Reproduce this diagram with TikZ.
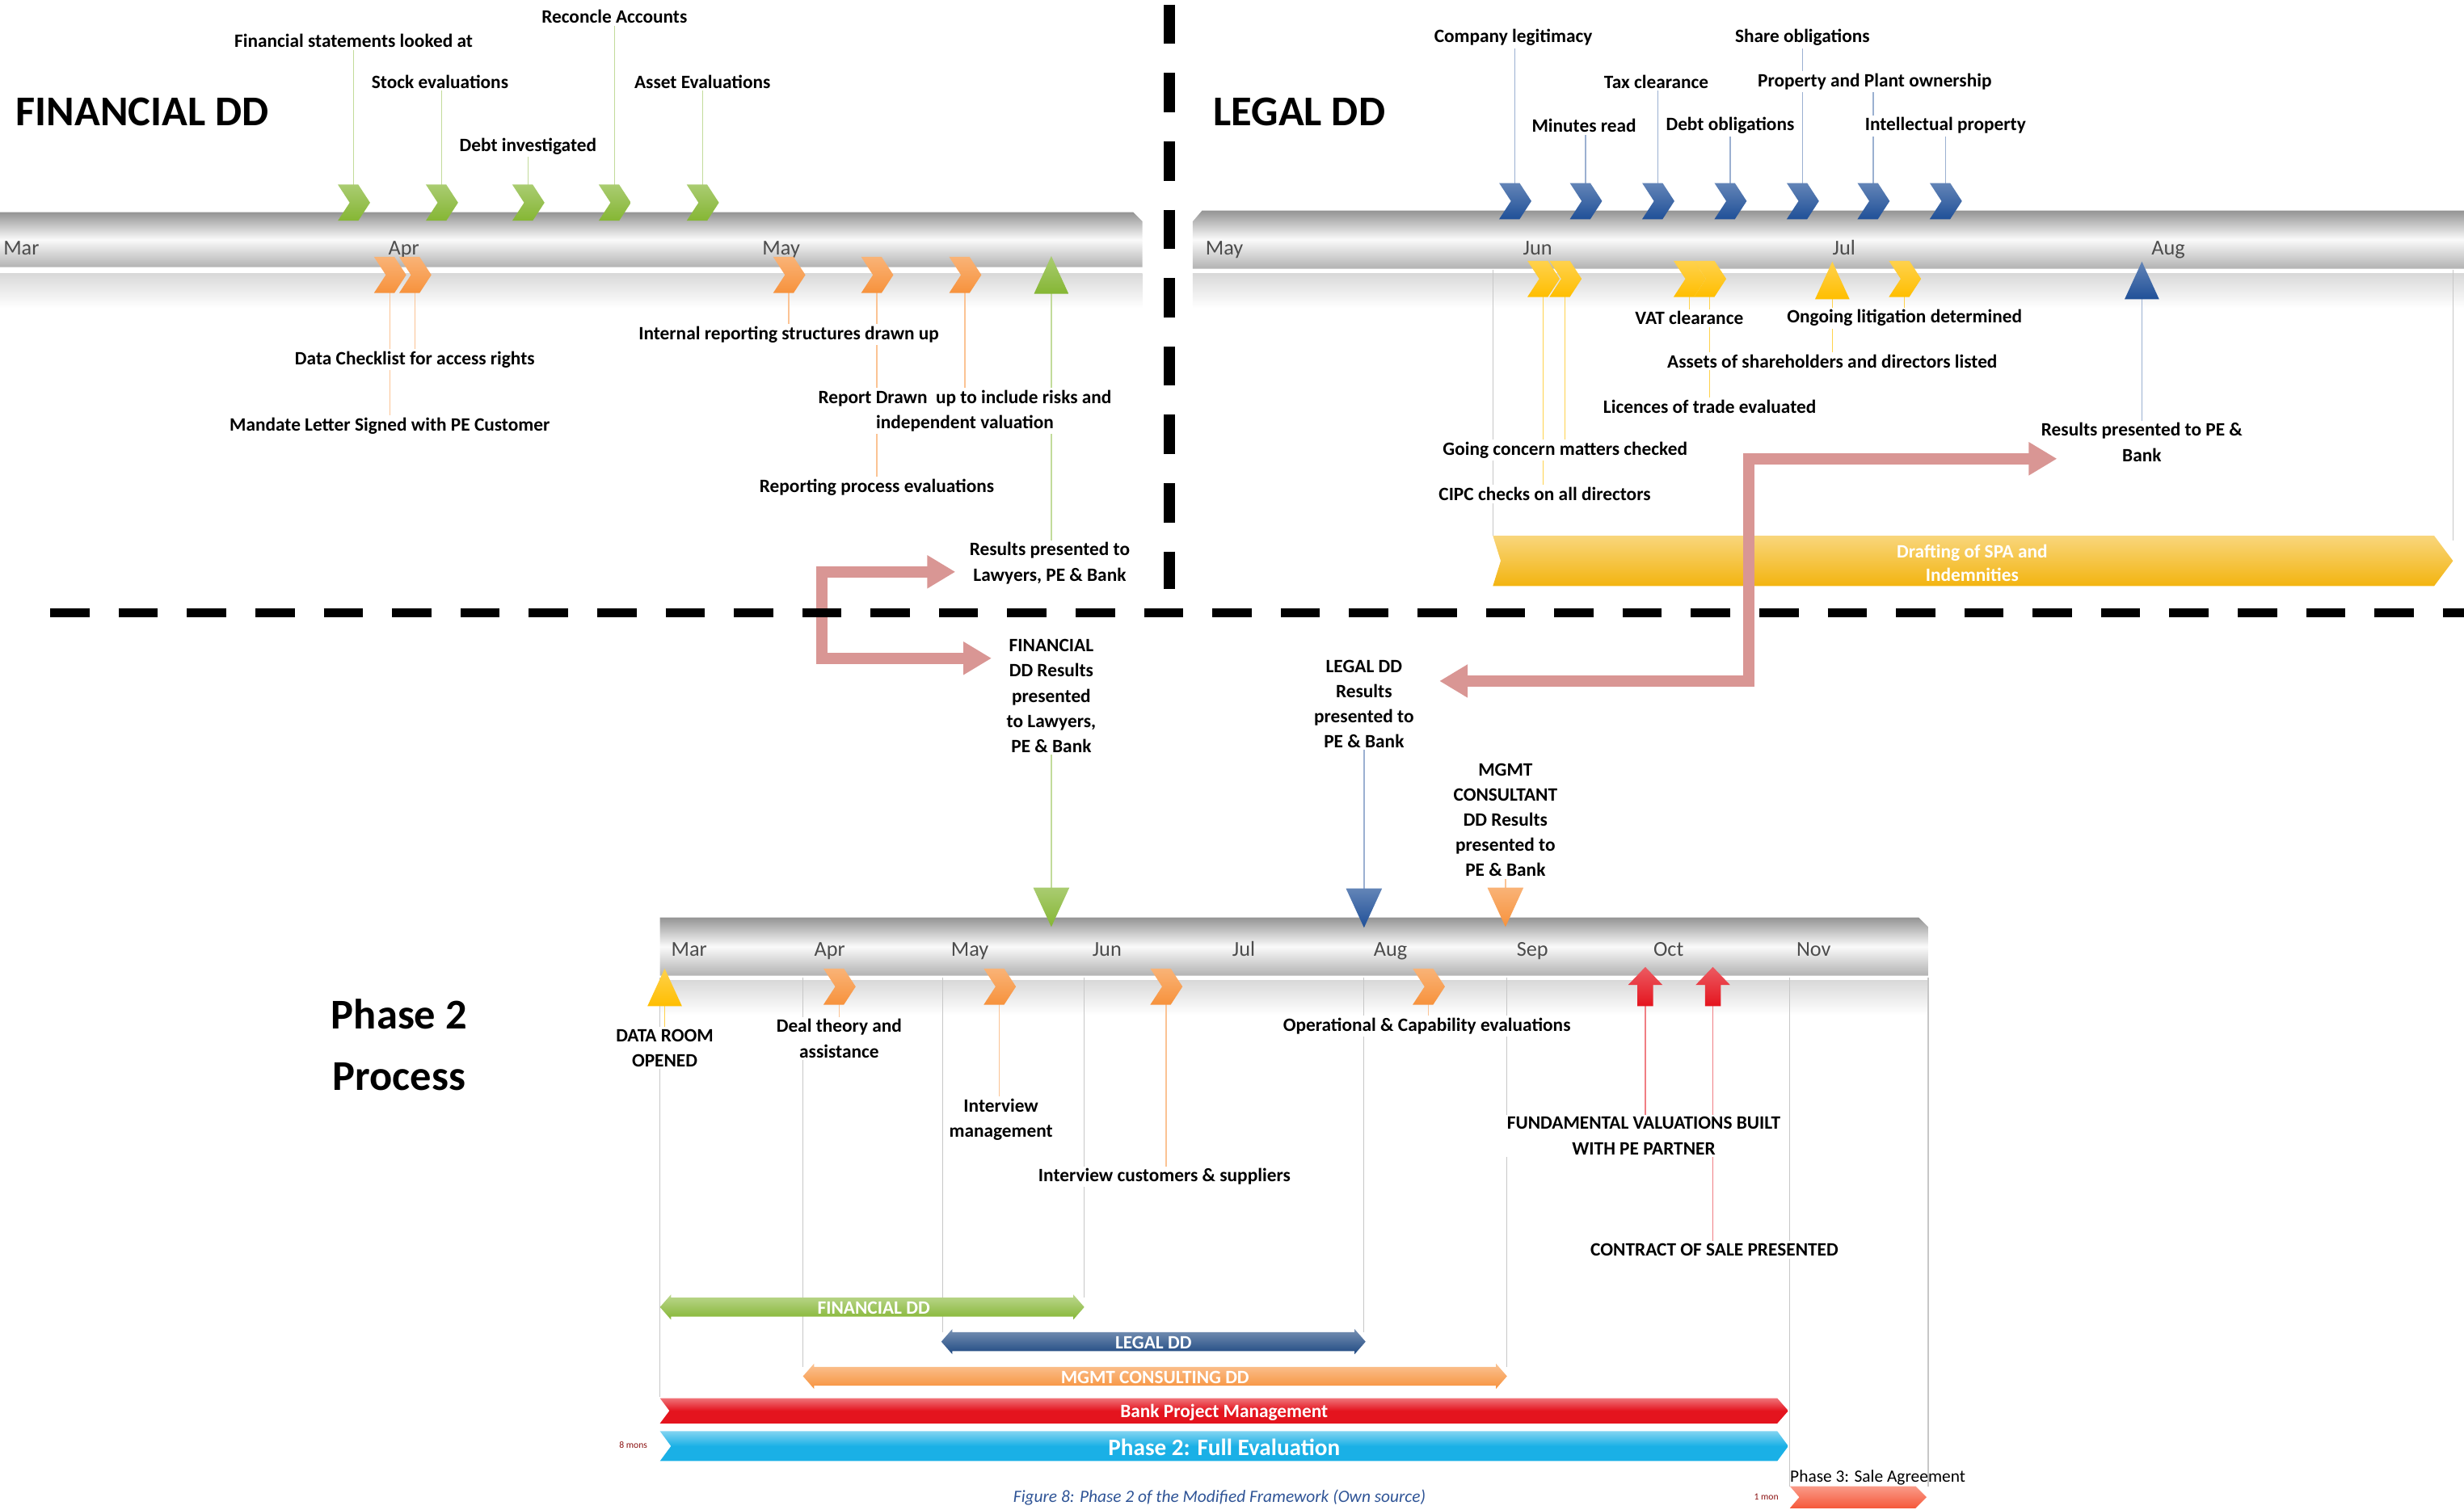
\documentclass[tikz,border=0pt]{standalone}
\usepackage{fontspec}
\setmainfont{Carlito}
\usetikzlibrary{arrows.meta}

\pgfdeclarelayer{bars}
\pgfdeclarelayer{guides}
\pgfsetlayers{bars,guides,main}

\definecolor{cgreen}{RGB}{133,182,52}
\definecolor{corange}{RGB}{247,146,60}
\definecolor{cblue}{RGB}{32,80,152}
\definecolor{cyellow}{RGB}{255,190,0}
\definecolor{cred}{RGB}{228,20,30}
\definecolor{ccyan}{RGB}{26,176,230}
\definecolor{cpink}{RGB}{217,150,148}
\definecolor{cgold}{RGB}{243,180,16}
\definecolor{cnavy}{RGB}{31,73,130}
\definecolor{cember}{RGB}{246,88,58}
\definecolor{capt}{RGB}{47,84,150}
\definecolor{cmaroon}{RGB}{140,20,20}

\tikzset{
  tube/.style={top color=black!42, bottom color=black!30, middle color=black!2},
  tubeband/.style={top color=black!15, bottom color=white},
  lbl/.style={font=\bfseries\fontsize{12}{16}\selectfont, align=center, fill=white, inner sep=1.5pt},
  bigtitle/.style={font=\bfseries\fontsize{27}{39}\selectfont, align=center},
  monthlbl/.style={font=\fontsize{13.5}{14}\selectfont, text=black!70, anchor=base west, inner sep=0pt},
  bartext/.style={font=\bfseries\fontsize{12}{15}\selectfont, text=white, align=center, inner sep=0pt},
  leader/.style={line width=0.7pt},
  gridline/.style={line width=0.6pt, draw=black!22},
  divider/.style={line width=#1, dash pattern=on 25pt off 18.5pt},
  pinkarrow/.style={draw=cpink, line width=7pt,
    {Triangle[width=20pt,length=18pt]}-{Triangle[width=20pt,length=18pt]}},
  pics/chev/.style={code={
    \shade[top color=#1!70!white, bottom color=#1]
      (-10,-11.5) -- (3,-11.5) -- (10.5,0) -- (3,11.5) -- (-10,11.5) -- (-2.5,0) -- cycle;}},
  pics/triup/.style={code={
    \shade[top color=#1!70!white, bottom color=#1]
      (-11,12) -- (0,-12) -- (11,12) -- cycle;}},
  pics/tridown/.style={code={
    \shade[top color=#1!70!white, bottom color=#1]
      (-11.5,-12.5) -- (0,12.5) -- (11.5,-12.5) -- cycle;}},
  pics/uparrow/.style={code={
    \shade[top color=#1!70!white, bottom color=#1]
      (-5,12.5) -- (-5,-1) -- (-11,-1) -- (0,-12.5) -- (11,-1) -- (5,-1) -- (5,12.5) -- cycle;}},
}

\begin{document}
\begin{tikzpicture}[x=1pt, y=-1pt]
\useasboundingbox (0,0) rectangle (1568,961);

% ---------- timeline tubes
\begin{pgfonlayer}{bars}
  \shade[tube] (0,135) -- (721,135) -- (727,141) -- (727,170) -- (0,170) -- cycle;
  \shade[tubeband] (0,174) rectangle (727,196);
  \shade[tube] (759,141) -- (765,134) -- (1568,134) -- (1568,171) -- (759,171) -- cycle;
  \shade[tubeband] (759,174) rectangle (1568,196);
  \shade[tube] (420,584) -- (1221,584) -- (1227,590) -- (1227,621) -- (420,621) -- cycle;
  \shade[tubeband] (420,624) rectangle (1227,646);
\end{pgfonlayer}

% ---------- month ticks
\node[monthlbl] (fm1) at (2,162) {Mar};
\node[monthlbl] (fm2) at (247,162) {Apr};
\node[monthlbl] (fm3) at (485,162) {May};
\node[monthlbl] (lm1) at (767,162) {May};
\node[monthlbl] (lm2) at (969,162) {Jun};
\node[monthlbl] (lm3) at (1166,162) {Jul};
\node[monthlbl] (lm4) at (1369,162) {Aug};
\foreach \n/\x/\t in {pm1/427/Mar,pm2/518/Apr,pm3/605/May,pm4/695/Jun,pm5/784/Jul,
                      pm6/874/Aug,pm7/965/Sep,pm8/1052/Oct,pm9/1143/Nov}
  \node[monthlbl] (\n) at (\x,608.5) {\t};

% ---------- titles
\node[bigtitle, anchor=west, inner sep=0pt] (tfin) at (10,71) {FINANCIAL DD};
\node[bigtitle, anchor=west, inner sep=0pt] (tleg) at (772,71) {LEGAL DD};
\node[bigtitle] (tph2) at (254,665) {Phase 2\\Process};

% ---------- financial DD markers
\foreach \n/\x in {g1/225,g2/281,g3/336,g4/391,g5/447}
  {\coordinate (\n) at (\x,129); \pic at (\n) {chev=cgreen};}
\foreach \n/\x in {o1/248,o2/264,o3/502,o4/558,o5/614}
  {\coordinate (\n) at (\x,175); \pic at (\n) {chev=corange};}
\coordinate (gt) at (669,175); \pic at (gt) {triup=cgreen};

% ---------- legal DD markers
\foreach \n/\x in {b1/964,b2/1009,b3/1055,b4/1101,b5/1147,b6/1192,b7/1238}
  {\coordinate (\n) at (\x,128); \pic at (\n) {chev=cblue};}
\foreach \n/\x in {y1/982,y2/996,y3/1075,y4/1088,y6/1212}
  {\coordinate (\n) at (\x,177.5); \pic at (\n) {chev=cyellow};}
\coordinate (yt) at (1166,178.5); \pic at (yt) {triup=cyellow};
\coordinate (bt) at (1363,178.5); \pic at (bt) {triup=cblue};

% ---------- phase 2 markers
\coordinate (gd) at (669,577.5); \pic at (gd) {tridown=cgreen};
\coordinate (bd) at (868,578);   \pic at (bd) {tridown=cblue};
\coordinate (od) at (958,577.5); \pic at (od) {tridown=corange};
\coordinate (ytp) at (423,628.5); \pic at (ytp) {triup=cyellow};
\foreach \n/\x in {c1/534,c2/636,c3/742,c4/909}
  {\coordinate (\n) at (\x,628); \pic at (\n) {chev=corange};}
\coordinate (r1) at (1047,628); \pic at (r1) {uparrow=cred};
\coordinate (r2) at (1090,628); \pic at (r2) {uparrow=cred};

% ---------- financial DD labels
\node[lbl] (fs) at (225,26)   {Financial statements looked at};
\node[lbl] (se) at (280,52)   {Stock evaluations};
\node[lbl] (di) at (336,93)   {Debt investigated};
\node[lbl] (ra) at (391,10.5) {Reconcle Accounts};
\node[lbl] (ae) at (447,52)   {Asset Evaluations};
\node[lbl] (dc) at (264,229)  {Data Checklist for access rights};
\node[lbl] (ml) at (248,271)  {Mandate Letter Signed with PE Customer};
\node[lbl] (ir) at (502,213)  {Internal reporting structures drawn up};
\node[lbl] (rd) at (614,261.5) {Report Drawn\ \ up to include risks and\\independent valuation};
\node[lbl] (rp) at (558,310)  {Reporting process evaluations};
\node[lbl] (rl) at (668,358.5) {Results presented to\\Lawyers, PE \& Bank};

% ---------- legal DD labels
\node[lbl] (cl) at (963,24)    {Company legitimacy};
\node[lbl] (so) at (1147,24)   {Share obligations};
\node[lbl] (tc) at (1054,52)   {Tax clearance};
\node[lbl] (pp) at (1193,52)   {Property and Plant ownership};
\node[lbl] (mr) at (1008,80)   {Minutes read};
\node[lbl] (do) at (1101,80)   {Debt obligations};
\node[lbl] (ip) at (1238,80)   {Intellectual property};
\node[lbl] (vat) at (1075,202.5) {VAT clearance};
\node[lbl] (ol) at (1212,202.5)  {Ongoing litigation determined};
\node[lbl] (as) at (1166,230)  {Assets of shareholders and directors listed};
\node[lbl] (lt) at (1088,259)  {Licences of trade evaluated};
\node[lbl] (gc) at (996,286.5) {Going concern matters checked};
\node[lbl] (cipc) at (983,314.5) {CIPC checks on all directors};
\node[lbl] (rpb) at (1363,281.5) {Results presented to PE \&\\Bank};

% ---------- phase 2 labels
\node[lbl] (pfin) at (669,443) {FINANCIAL\\DD Results\\presented\\to Lawyers,\\PE \& Bank};
\node[lbl] (pleg) at (868,448) {LEGAL DD\\Results\\presented to\\PE \& Bank};
\node[lbl] (pmg)  at (958,522) {MGMT\\CONSULTANT\\DD Results\\presented to\\PE \& Bank};
\node[lbl] (dr) at (423,667)   {DATA ROOM\\OPENED};
\node[lbl] (dt) at (534,661)   {Deal theory and\\assistance};
\node[lbl] (im) at (637,712.5) {Interview\\management};
\node[lbl] (ic) at (741,749)   {Interview customers \& suppliers};
\node[lbl] (oc) at (908,653)   {Operational \& Capability evaluations};
\node[lbl] (fv) at (1046,723)  {FUNDAMENTAL VALUATIONS BUILT\\WITH PE PARTNER};
\node[lbl] (cs) at (1091,795.5) {CONTRACT OF SALE PRESENTED};

% ---------- leader lines and grid lines
\begin{pgfonlayer}{guides}
  \foreach \m/\l in {g1/fs,g2/se,g3/di,g4/ra,g5/ae,gt/rl}
    \draw[leader, cgreen!50] (\m) -- (\m |- \l);
  \foreach \m/\l in {o1/ml,o2/dc,o3/ir,o4/rp,o5/rd}
    \draw[leader, corange!55] (\m) -- (\m |- \l);
  \foreach \m/\l in {b1/cl,b2/mr,b3/tc,b4/do,b5/so,b6/pp,b7/ip,bt/rpb}
    \draw[leader, cblue!45] (\m) -- (\m |- \l);
  \foreach \m/\l in {y1/cipc,y2/gc,y3/vat,y4/lt,yt/as,y6/ol}
    \draw[leader, cyellow!70] (\m) -- (\m |- \l);
  \draw[leader, cgreen!50] (gd) -- (gd |- pfin);
  \draw[leader, cblue!45] (bd) -- (bd |- pleg);
  \draw[leader, corange!55] (od) -- (od |- pmg);
  \draw[leader, cyellow!70] (ytp) -- (ytp |- dr);
  \foreach \m/\l in {c1/dt,c2/im,c3/ic,c4/oc}
    \draw[leader, corange!55] (\m) -- (\m |- \l);
  \foreach \m/\l in {r1/fv,r2/cs}
    \draw[leader, cred!55] (\m) -- (\m |- \l);
  % column guides
  \draw[gridline] (950,172) -- (950,341);
  \draw[gridline] (1561,172) -- (1561,344);
  \foreach \x/\y in {420/889,511/870,600/848,690/826,868/848,959/870,1139/946,1227/946}
    \draw[gridline] (\x,622) -- (\x,\y);
\end{pgfonlayer}

% ---------- drafting bar
\shade[top color=cgold!55!white, bottom color=cgold]
  (950,341) -- (1549,341) -- (1561,357) -- (1549,373) -- (950,373) -- (955,357) -- cycle;
\node[bartext] (spa) at (1255,358.5) {Drafting of SPA and\\Indemnities};

% ---------- phase 2 work-stream bars
\shade[top color=cgreen!55!white, bottom color=cgreen]
  (420,832) -- (427,824) -- (427,826) -- (683,826) -- (683,824) -- (690,832)
  -- (683,840) -- (683,838) -- (427,838) -- (427,840) -- cycle;
\node[bartext] (bfin) at (556,832.5) {FINANCIAL DD};
\shade[top color=cnavy!60!white, bottom color=cnavy]
  (599,854) -- (606,846) -- (606,848) -- (862,848) -- (862,846) -- (869,854)
  -- (862,862) -- (862,860) -- (606,860) -- (606,862) -- cycle;
\node[bartext] (bleg) at (734,854.5) {LEGAL DD};
\shade[top color=corange!55!white, bottom color=corange]
  (511,876) -- (518,868) -- (518,870) -- (952,870) -- (952,868) -- (959,876)
  -- (952,884) -- (952,882) -- (518,882) -- (518,884) -- cycle;
\node[bartext] (bmg) at (735,877) {MGMT CONSULTING DD};
\shade[top color=cred!60!white, bottom color=cred, middle color=cred]
  (420,890) -- (1131,890) -- (1138,898) -- (1131,906) -- (420,906) -- (426,898) -- cycle;
\node[bartext] (bbank) at (779,899) {Bank Project Management};
\shade[top color=ccyan!55!white, bottom color=ccyan, middle color=ccyan]
  (420,911) -- (1131,911) -- (1138,920.5) -- (1131,930) -- (420,930) -- (427,920.5) -- cycle;
\node[bartext, font=\bfseries\fontsize{15}{17}\selectfont] (bph2) at (779,921) {Phase 2: Full Evaluation};
\node[font=\fontsize{6}{7}\selectfont, text=cmaroon] (mons8) at (403,920) {8 mons};
\shade[top color=cember!60!white, bottom color=cember]
  (1139,946) -- (1219,946) -- (1226,953) -- (1219,960) -- (1139,960) -- (1145,953) -- cycle;
\node[font=\fontsize{11}{12}\selectfont, anchor=west, inner sep=0pt] (ph3) at (1139,940.5) {Phase 3: Sale Agreement};
\node[font=\fontsize{6}{7}\selectfont, text=cmaroon] (mons1) at (1124,953) {1 mon};

% ---------- hand-over arrows
\coordinate (fa1) at (608,364);
\coordinate (fa2) at (631,419);
\coordinate (fbend) at (523,390);
\draw[pinkarrow] (fa1) -| (fbend) |- (fa2);
\coordinate (la1) at (1309,292);
\coordinate (la2) at (916,433.5);
\coordinate (lbend) at (1113,360);
\draw[pinkarrow] (la1) -| (lbend) |- (la2);

% ---------- section dividers
\draw[divider=7pt] (744,3) -- (744,375);
\draw[divider=6pt] (32,390) -- (1568,390);

% ---------- caption
\node[font=\itshape\fontsize{11}{13}\selectfont, text=capt] (cap) at (776,953)
  {Figure 8: Phase 2 of the Modified Framework (Own source)};
\end{tikzpicture}
\end{document}
